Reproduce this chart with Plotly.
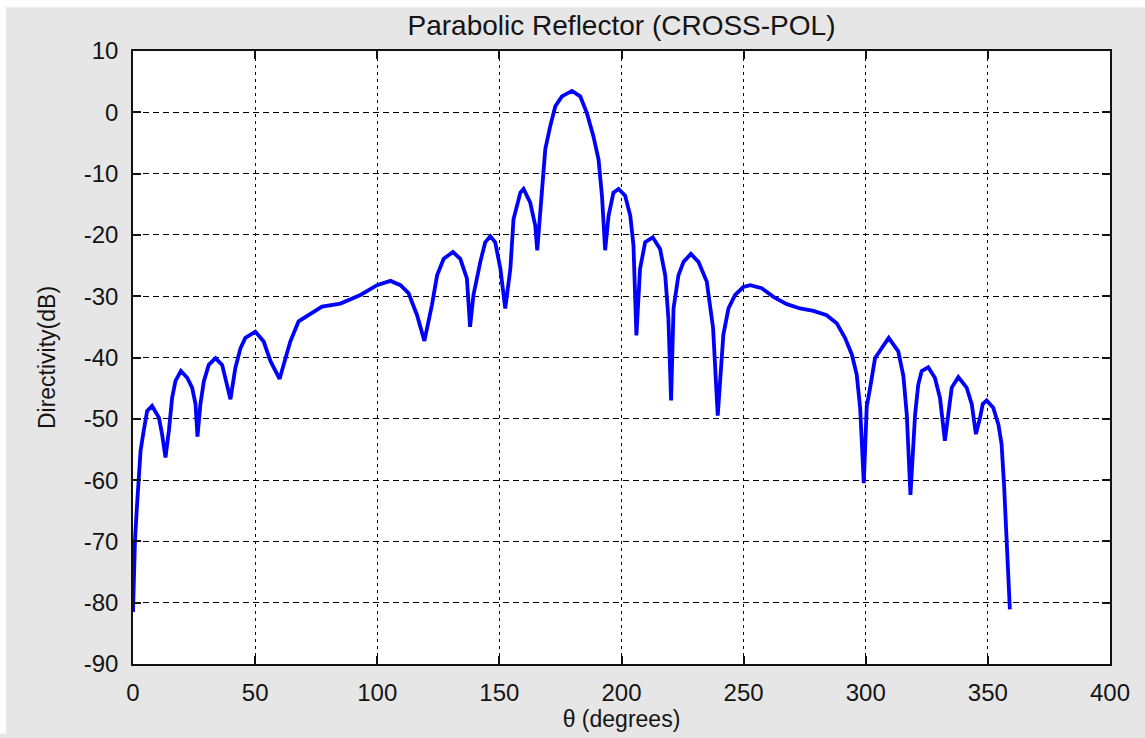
import plotly.graph_objects as go

# Angle (degrees) and cross-pol directivity (dB)
theta = [0, 0.3, 0.8, 1.5, 2.4, 3.1, 4.4, 5.8, 7.8, 10.6, 11.9, 13.3, 14.7, 16.0, 17.4,
         19.6, 22.2, 24.2, 25.6, 26.4, 27.6, 29.0, 31.0, 33.8, 36.5, 37.8, 39.9, 41.9,
         44.0, 46.0, 50.1, 53.5, 56.3, 60.0, 62.4, 64.4, 67.8, 71.9, 77.4, 84.9, 93.1,
         99.9, 105.4, 109.5, 112.8, 116.3, 119.3, 122.4, 124.5, 127.2, 131.0, 134.0,
         136.7, 138.0, 139.4, 142.2, 144.2, 146.3, 148.3, 150.4, 152.4, 154.5, 155.8,
         158.6, 159.9, 162.6, 164.7, 165.5, 167.4, 168.8, 170.8, 172.9, 175.6, 179.7,
         183.1, 185.8, 188.5, 190.6, 192.0, 193.3, 194.7, 196.7, 198.8, 201.5, 203.6,
         204.9, 206.1, 207.6, 209.7, 212.8, 215.8, 217.9, 219.2, 220.3, 221.3, 223.3,
         225.4, 228.4, 231.5, 234.9, 237.5, 239.4, 241.7, 243.8, 246.5, 249.9, 252.7,
         257.4, 262.2, 267.7, 273.1, 278.6, 284.0, 288.1, 291.5, 294.3, 296.3, 297.7,
         299.2, 300.4, 301.8, 303.8, 306.5, 309.4, 313.3, 315.4, 316.8, 318.3, 320.2,
         321.5, 322.9, 325.6, 328.3, 330.4, 332.4, 333.8, 335.2, 337.9, 341.3, 343.4,
         345.1, 346.8, 347.9, 349.5, 352.2, 354.3, 355.6, 356.6, 357.7, 358.3, 359.0]

directivity = [-81.5, -76.0, -70.0, -65.0, -59.5, -55.2, -51.9, -48.7, -47.9, -49.8, -52.5,
               -56.3, -51.9, -46.6, -43.8, -42.2, -43.3, -44.9, -47.6, -52.9, -47.6, -43.9,
               -41.2, -40.1, -41.2, -43.3, -46.8, -41.7, -38.5, -36.8, -35.8, -37.4, -40.6,
               -43.5, -40.1, -37.4, -34.1, -33.1, -31.7, -31.2, -29.8, -28.2, -27.5, -28.2,
               -29.5, -33.1, -37.3, -31.4, -26.6, -23.9, -22.8, -23.9, -27.1, -35.0, -29.8,
               -24.4, -21.2, -20.2, -21.2, -25.5, -32.0, -25.5, -17.4, -13.1, -12.5, -14.7,
               -18.5, -22.5, -12.5, -6.0, -2.3, 1.0, 2.6, 3.5, 2.6, -0.1, -3.9, -7.7, -13.6,
               -22.5, -16.9, -13.1, -12.5, -13.6, -16.9, -21.7, -36.4, -25.5, -21.2, -20.4,
               -22.3, -26.6, -33.6, -47.0, -32.0, -26.6, -24.4, -23.1, -24.4, -27.6, -35.2,
               -49.5, -36.3, -32.0, -29.8, -28.5, -28.2, -28.7, -30.1, -31.3, -32.0, -32.4,
               -33.1, -34.4, -36.8, -39.5, -42.8, -48.2, -60.5, -48.0, -44.9, -40.1, -38.5,
               -36.8, -39.0, -43.0, -49.3, -62.4, -49.3, -44.4, -42.2, -41.6, -43.3, -46.6,
               -53.6, -49.3, -44.9, -43.2, -44.9, -47.6, -52.5, -49.8, -47.6, -47.0, -48.2,
               -50.9, -54.1, -60.6, -68.7, -75.7, -81.1]

title_text = "Parabolic Reflector (CROSS-POL)"
x_title = "θ (degrees)"
y_title = "Directivity(dB)"
x_ticks = [0, 50, 100, 150, 200, 250, 300, 350, 400]
x_tick_labels = ["0", "50", "100", "150", "200", "250", "300", "350", "400"]
y_ticks = [-90, -80, -70, -60, -50, -40, -30, -20, -10, 0, 10]
y_tick_labels = ["-90", "-80", "-70", "-60", "-50", "-40", "-30", "-20", "-10", "0", "10"]

FONT = "Liberation Sans, Arial, sans-serif"
TXT = "#141414"

fig = go.Figure()
fig.add_trace(go.Scatter(x=theta, y=directivity, mode="lines",
                         line=dict(color="#0000ff", width=3.8), showlegend=False))

axis_common = dict(
    showline=True, linecolor="#111111", linewidth=1.6, mirror="ticks",
    ticks="inside", ticklen=8, tickwidth=1.6, tickcolor="#111111",
    showgrid=True, gridcolor="#000000", gridwidth=1.3, zeroline=False,
    tickfont=dict(family=FONT, size=24, color=TXT),
)

fig.update_layout(
    width=1145, height=738,
    margin=dict(l=133, r=35, t=51, b=70),
    paper_bgcolor="#e6e6e6", plot_bgcolor="#ffffff",
    title=dict(text=title_text, x=0.5, xref="paper", xanchor="center",
               y=0.966, yref="container", yanchor="middle",
               font=dict(family=FONT, size=28, color=TXT)),
    xaxis=dict(range=[0, 400], tickvals=x_ticks, ticktext=x_tick_labels,
               griddash="3px,4px", ticklabelstandoff=6,
               title=dict(text=x_title, standoff=4, font=dict(family=FONT, size=23, color=TXT)),
               **axis_common),
    yaxis=dict(range=[-90, 10], tickvals=y_ticks, ticktext=y_tick_labels,
               griddash="6px,4px", ticklabelstandoff=8,
               title=dict(text=y_title, standoff=22, font=dict(family=FONT, size=23, color=TXT)),
               **axis_common),
)

# thin white frame along the top and left edges of the figure
fig.add_shape(type="rect", xref="paper", yref="paper", layer="below",
              x0=-133/977, x1=1+35/977, y0=1+44/617, y1=1+51/617,
              fillcolor="#ffffff", line=dict(width=0))
fig.add_shape(type="rect", xref="paper", yref="paper", layer="below",
              x0=-133/977, x1=-127/977, y0=-70/617, y1=1+51/617,
              fillcolor="#ffffff", line=dict(width=0))

fig.write_html("out.html")
